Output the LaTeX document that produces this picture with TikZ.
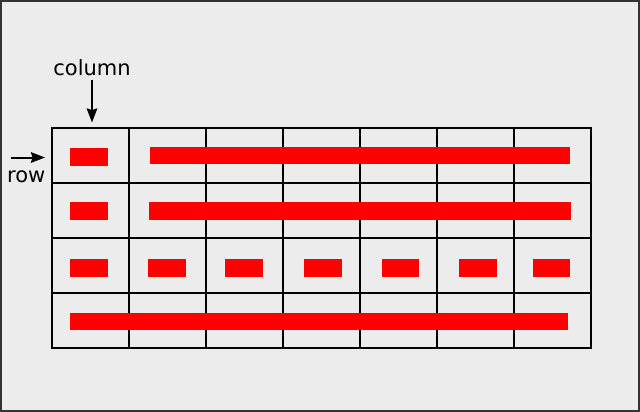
\documentclass[tikz,border=0pt]{standalone}
\usepackage{fontspec}
\setmainfont{DejaVu Sans}
\usetikzlibrary{arrows.meta}
\definecolor{bgc}{HTML}{ECECEC}
\definecolor{bordc}{HTML}{333333}
\definecolor{barred}{HTML}{FF0000}
\begin{document}
\begin{tikzpicture}[x=1pt,y=-1pt,
  gridline/.style={line width=2pt,black},
  bar/.style={fill=barred},
  lbl/.style={font=\fontsize{21}{25}\selectfont,inner sep=0pt,anchor=base},
  ptr/.style={line width=2pt,-{Stealth[length=14pt,width=10.5pt,inset=1.5pt]}}]
\useasboundingbox (0,0) rectangle (640,412);
\fill[bgc] (0,0) rectangle (640,412);
\draw[bordc,line width=2.2pt] (1.1,1.1) rectangle (638.9,410.9);
% grid
\draw[gridline] (52,128) rectangle (590.5,348);
\foreach \y in {183,238,293}
  \draw[gridline] (52,\y) -- (590.5,\y);
\foreach \x in {128.5,205.5,282.5,359.5,436.5,513.5}
  \draw[gridline] (\x,128) -- (\x,348);
% bars
\fill[bar] (70,148) rectangle (108,166);
\fill[bar] (150,146.5) rectangle (570,164);
\fill[bar] (70,202.3) rectangle (107.5,220.3);
\fill[bar] (149,202.3) rectangle (571,220.3);
\foreach \a/\b in {70.3/108.3,148/185.7,225/262.7,304/341.7,381.7/419.3,459/496.7,533/570}
  \fill[bar] (\a,258.7) rectangle (\b,276.7);
\fill[bar] (70,312.5) rectangle (567.7,330.3);
% labels and arrows
\node[lbl] (col) at (92,75) {column};
\coordinate (colS) at (92,80);
\coordinate (colE) at (92,122.5);
\draw[ptr] (colS) -- (colE);
\node[lbl] (row) at (26.3,182) {row};
\coordinate (rowS) at (10.5,157.5);
\coordinate (rowE) at (45,157.5);
\draw[ptr] (rowS) -- (rowE);
\end{tikzpicture}
\end{document}
